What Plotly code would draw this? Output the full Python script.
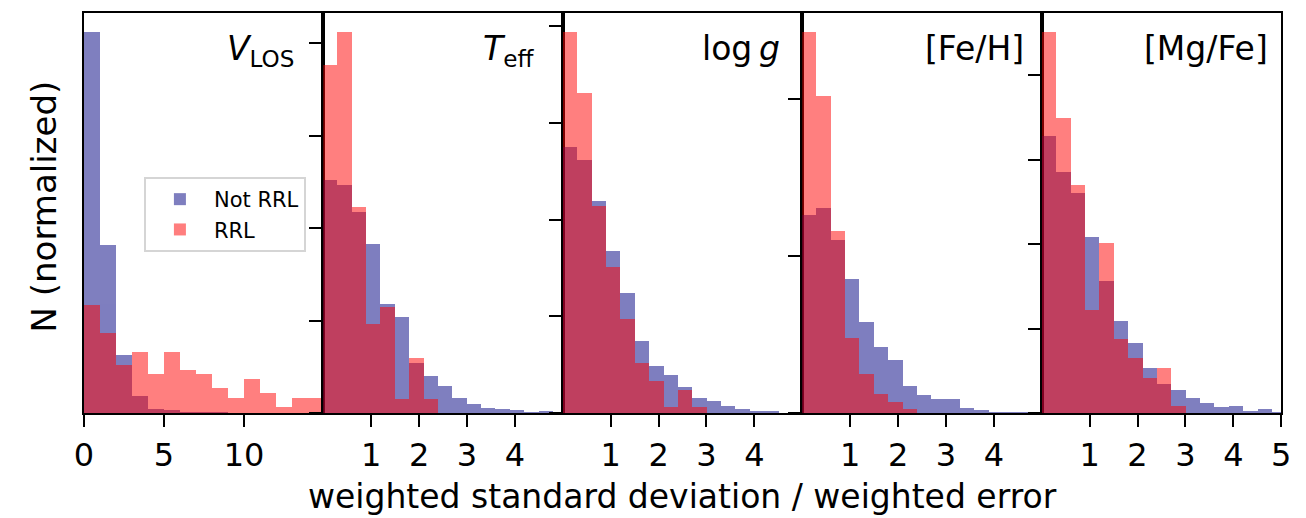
import numpy as np
import plotly.graph_objects as go

# ---------------- data (normalized densities) ----------------
panel_titles = ["<i>V</i><sub>LOS</sub>", "<i>T</i><sub>eff</sub>", "log\u2009<i>g</i>", "[Fe/H]", "[Mg/Fe]"]
bin_widths = [1.0, 0.3, 0.3, 0.3, 0.3]

vlos_notrrl = [0.598, 0.264, 0.0914, 0.0271, 0.0078, 0.0052, 0.0024, 0.0016, 0.0011, 0.0008, 0.0006, 0.0005, 0.0005, 0.0003, 0.0003]
vlos_rrl = [0.170, 0.126, 0.0757, 0.0966, 0.0616, 0.0966, 0.069, 0.0616, 0.0401, 0.0251, 0.0538, 0.0323, 0.0103, 0.0251, 0.0251]

teff_notrrl = [0.631, 0.617, 0.544, 0.459, 0.297, 0.261, 0.137, 0.101, 0.074, 0.042, 0.027, 0.015, 0.012, 0.009, 0.002, 0.006]
teff_rrl = [0.941, 1.031, 0.558, 0.243, 0.288, 0.039, 0.151, 0.039]

logg_notrrl = [0.688, 0.656, 0.550, 0.420, 0.312, 0.187, 0.124, 0.0996, 0.0686, 0.0413, 0.0317, 0.0196, 0.0119, 0.0067, 0.0067]
logg_rrl = [0.985, 0.827, 0.535, 0.378, 0.243, 0.131, 0.084, 0.017, 0.062, 0.017]

feh_notrrl = [0.632, 0.655, 0.554, 0.428, 0.292, 0.212, 0.172, 0.088, 0.058, 0.046, 0.046, 0.019, 0.011, 0.006, 0.002, 0.002]
feh_rrl = [1.215, 1.011, 0.582, 0.242, 0.127, 0.061, 0.037, 0.016]

mgfe_notrrl = [0.656, 0.571, 0.522, 0.418, 0.313, 0.218, 0.168, 0.108, 0.069, 0.055, 0.038, 0.024, 0.016, 0.017, 0.006, 0.010, 0.004]
mgfe_rrl = [0.902, 0.698, 0.540, 0.246, 0.403, 0.176, 0.131, 0.085, 0.108, 0.017]

notrrl_series = [vlos_notrrl, teff_notrrl, logg_notrrl, feh_notrrl, mgfe_notrrl]
rrl_series = [vlos_rrl, teff_rrl, logg_rrl, feh_rrl, mgfe_rrl]

x_ranges = [[0, 14.95], [0, 5], [0, 5], [0, 5], [0, 5]]
x_tickvals = [[0, 5, 10], [1, 2, 3, 4], [1, 2, 3, 4], [1, 2, 3, 4], [1, 2, 3, 4, 5]]
y_tickvals = [[], [0, 0.25, 0.5, 0.75, 1.0], [0, 0.25, 0.5, 0.75, 1.0], [0, 0.5, 1.0], [0, 0.2, 0.4, 0.6, 0.8]]

legend_names = ["Not RRL", "RRL"]
colors = ["#000080", "#ff0000"]

# ---------------- layout geometry ----------------
W, H = 1306, 518
left_px, right_px = 75, 1291
top_px, bottom_px = 12.7, 413.3
n = 5
pw = (right_px - left_px) / n
ydom = [(H - bottom_px) / H, (H - top_px) / H]
title_xshift = [-27, -27, -20, -16, -11]

FONT = "DejaVu Sans"
fig = go.Figure()

for i in range(n):
    ax = "" if i == 0 else str(i + 1)
    bw = bin_widths[i]
    for s, (series, name, col) in enumerate(zip([notrrl_series[i], rrl_series[i]], legend_names, colors)):
        edges = np.arange(len(series)) * bw
        fig.add_trace(go.Bar(
            x=edges, y=series, width=bw, offset=0,
            marker=dict(color=col, line=dict(width=0)),
            opacity=0.5, name=name, showlegend=(i == 0),
            xaxis="x" + ax, yaxis="y" + ax,
        ))
    ymax = max(max(notrrl_series[i]), max(rrl_series[i])) * 1.05
    x0 = (left_px + i * pw) / W
    x1 = (left_px + (i + 1) * pw) / W
    fig.layout["xaxis" + ax] = dict(
        domain=[x0, x1], range=x_ranges[i], anchor="y" + ax,
        tickmode="array", tickvals=x_tickvals[i],
        ticks="outside", ticklen=12, tickwidth=2, tickcolor="black",
        showline=True, linecolor="black", linewidth=2, mirror=True,
        showgrid=False, zeroline=False,
        tickfont=dict(family=FONT, size=32, color="black"),
    )
    fig.layout["yaxis" + ax] = dict(
        domain=ydom, range=[0, ymax], anchor="x" + ax,
        tickmode="array", tickvals=y_tickvals[i],
        ticks="outside" if i > 0 else "", ticklen=12, tickwidth=2, tickcolor="black",
        showticklabels=False,
        showline=True, linecolor="black", linewidth=2, mirror=True,
        showgrid=False, zeroline=False,
    )
    fig.add_annotation(
        text=panel_titles[i], xref="x" + ax + " domain", yref="y" + ax + " domain",
        x=1, y=1, xanchor="right", yanchor="top", xshift=title_xshift[i], yshift=-14,
        showarrow=False, font=dict(family=FONT, size=33, color="black"),
    )

fig.add_annotation(
    text="weighted standard deviation / weighted error", xref="paper", yref="paper",
    x=(left_px + right_px) / 2 / W, y=(H - 496) / H, xanchor="center", yanchor="middle",
    showarrow=False, font=dict(family=FONT, size=33, color="black"),
)
fig.add_annotation(
    text="N (normalized)", xref="paper", yref="paper",
    x=35 / W, y=(H - 206) / H, xanchor="center", yanchor="middle", textangle=-90,
    showarrow=False, font=dict(family=FONT, size=34, color="black"),
)

fig.update_layout(
    width=W, height=H,
    margin=dict(l=0, r=0, t=0, b=0),
    paper_bgcolor="white", plot_bgcolor="white",
    barmode="overlay", bargap=0,
    showlegend=True,
    legend=dict(
        x=136 / W, y=(H - 177) / H, xanchor="left", yanchor="top",
        bgcolor="white", bordercolor="#d5d5d5", borderwidth=2,
        font=dict(family=FONT, size=21, color="black"),
        itemwidth=58, tracegroupgap=0,
    ),
)

fig.write_html("out.html")
